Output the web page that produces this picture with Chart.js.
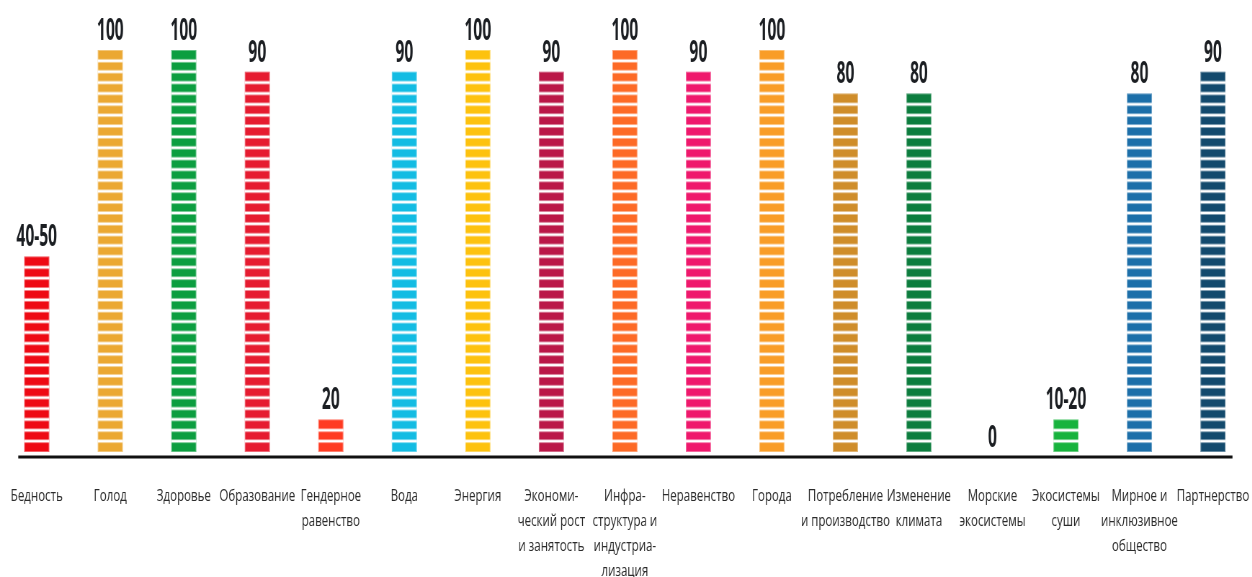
<!DOCTYPE html>
<html>
<head>
<meta charset="utf-8">
<script src="https://cdn.jsdelivr.net/npm/chart.js@4/dist/chart.umd.min.js"></script>
<style>
  html, body { margin: 0; padding: 0; background: #ffffff; overflow: hidden; }
  #outer { width: 1252px; height: 577px; overflow: hidden; position: relative; }
  #wrap { position: absolute; left: 0; top: 0; height: 577px; transform-origin: 0 0; }
</style>
</head>
<body>
<div id="outer"><div id="wrap"><canvas id="c"></canvas></div></div>
<script>
// ---- data ----
const categories = [
  ["Бедность"],
  ["Голод"],
  ["Здоровье"],
  ["Образование"],
  ["Гендерное", "равенство"],
  ["Вода"],
  ["Энергия"],
  ["Экономи-", "ческий рост", "и занятость"],
  ["Инфра-", "структура и", "индустриа-", "лизация"],
  ["Неравенство"],
  ["Города"],
  ["Потребление", "и производство"],
  ["Изменение", "климата"],
  ["Морские", "экосистемы"],
  ["Экосистемы", "суши"],
  ["Мирное и", "инклюзивное", "общество"],
  ["Партнерство"]
];
// bar height measured in stacked blocks as drawn in the picture
const blocks = [18, 37, 37, 35, 3, 35, 37, 35, 37, 35, 37, 33, 33, 0, 3, 33, 35];
// value labels printed above the bars
const valueLabels = ["40-50", "100", "100", "90", "20", "90", "100", "90", "100", "90", "100", "80", "80", "0", "10-20", "80", "90"];
const barColors = [
  "#EE0A14", "#EBA832", "#0C9E40", "#E61B30", "#FF3B22", "#13BCE3", "#FDC20E",
  "#BA1848", "#FD6A26", "#EF186C", "#F99D27", "#CF8D2A", "#0C7D3E", "#0A97D9",
  "#17B33D", "#1C6FA9", "#134A6D"
];
const maxBlocks = 37;

// ---- layout ----
const K = 0.72; // horizontal condensation of the whole picture
const wrap = document.getElementById('wrap');
wrap.style.width = (1252 / K) + 'px';
wrap.style.transform = 'scaleX(' + K + ')';

const stripePlugin = {
  id: 'stripes',
  afterDatasetsDraw(chart) {
    const ctx = chart.ctx;
    const y = chart.scales.y;
    const meta = chart.getDatasetMeta(0);
    ctx.save();
    meta.data.forEach((bar, i) => {
      const n = blocks[i];
      const w = bar.width;
      for (let j = 1; j < n; j++) {
        const py = y.getPixelForValue(j);
        ctx.fillStyle = 'rgba(255,255,255,0.45)';
        ctx.fillRect(bar.x - w / 2, py - 2, w, 4);
        ctx.fillStyle = '#ffffff';
        ctx.fillRect(bar.x - w / 2, py - 1, w, 2);
      }
      if (n > 0) {
        ctx.strokeStyle = 'rgba(255,255,255,0.35)';
        ctx.lineWidth = 1;
        ctx.strokeRect(bar.x - w / 2 + 0.5, bar.y + 0.5, w - 1, bar.base - bar.y - 1);
      }
    });
    ctx.restore();
  },
  afterDraw(chart) {
    const ctx = chart.ctx;
    const x = chart.scales.x;
    const area = chart.chartArea;
    const meta = chart.getDatasetMeta(0);
    ctx.save();
    // baseline
    ctx.strokeStyle = '#111111';
    ctx.lineWidth = 3;
    ctx.beginPath();
    ctx.moveTo(x.getPixelForValue(0) - 18.5 / K, area.bottom + 5);
    ctx.lineTo(x.getPixelForValue(categories.length - 1) + 19.5 / K, area.bottom + 5);
    ctx.stroke();
    // value labels
    ctx.fillStyle = '#1b1e22';
    ctx.font = 'bold 30px "Open Sans"';
    ctx.textAlign = 'center';
    ctx.textBaseline = 'alphabetic';
    meta.data.forEach((bar, i) => {
      const off = blocks[i] === 0 ? 5 : 10;
      ctx.save();
      ctx.translate(bar.x, bar.y - off);
      ctx.scale(0.72, 1);
      ctx.fillText(valueLabels[i], 0, 0);
      ctx.restore();
    });
    ctx.restore();
  }
};

new Chart(document.getElementById('c'), {
  type: 'bar',
  data: {
    labels: categories,
    datasets: [{
      data: blocks,
      backgroundColor: barColors,
      borderWidth: 0,
      barPercentage: 0.34,
      categoryPercentage: 1.0
    }]
  },
  options: {
    responsive: true,
    maintainAspectRatio: false,
    animation: false,
    layout: { padding: { left: -2 / K, right: 3 / K, top: 50, bottom: 0 } },
    plugins: { legend: { display: false }, tooltip: { enabled: false } },
    scales: {
      x: {
        grid: { display: false },
        border: { display: false },
        ticks: {
          autoSkip: false,
          maxRotation: 0,
          minRotation: 0,
          padding: 24,
          color: '#2b2b2b',
          font: { family: '"Open Sans"', size: 16, lineHeight: 25 / 16 }
        },
        afterFit(scale) {
          scale.height = 125;
          scale.paddingLeft = 0;
          scale.paddingRight = 0;
        }
      },
      y: {
        display: false,
        min: 0,
        max: maxBlocks
      }
    }
  },
  plugins: [stripePlugin]
});
</script>
</body>
</html>
